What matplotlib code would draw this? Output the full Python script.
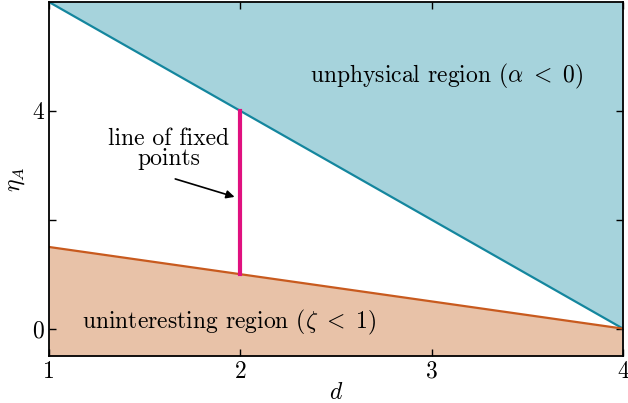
import matplotlib
matplotlib.use('Agg')
import matplotlib.pyplot as plt

plt.rcParams['font.family'] = 'serif'
plt.rcParams['font.serif'] = ['cmr10']
plt.rcParams['mathtext.fontset'] = 'cm'
plt.rcParams['axes.formatter.use_mathtext'] = True

# region boundaries eta_A(d)
d = [1, 4]
eta_unphysical = [6, 0]      # alpha = 0
eta_uninteresting = [1.5, 0]  # zeta = 1
fixed_d = [2, 2]
fixed_eta = [1, 4]

xticks = [1, 2, 3, 4]
yticks = [0, 2, 4]
ytick_labels = ['0', '', '4']

blue_line = '#14869e'
blue_fill = '#a6d3dc'
orange_line = '#c85a1e'
orange_fill = '#e8c2a8'
magenta = '#e0117f'

fs = 17

fig, ax = plt.subplots(figsize=(6.28, 4.03), dpi=100)
fig.subplots_adjust(left=0.078, right=0.992, top=0.995, bottom=0.117)

ax.fill_between(d, eta_unphysical, 6, color=blue_fill, lw=0)
ax.fill_between(d, -0.5, eta_uninteresting, color=orange_fill, lw=0)
ax.plot(d, eta_unphysical, color=blue_line, lw=1.6)
ax.plot(d, eta_uninteresting, color=orange_line, lw=1.6)
ax.plot(fixed_d, fixed_eta, color=magenta, lw=3)

ax.text(3.08, 4.64, r'unphysical region ($\alpha\ <\ 0$)', fontsize=fs,
        ha='center', va='center')
ax.text(1.94, 0.11, r'uninteresting region ($\zeta\ <\ 1$)', fontsize=fs,
        ha='center', va='center')
ax.text(1.625, 3.3, 'line of fixed\npoints', fontsize=fs, ha='center',
        va='center', linespacing=0.9)
ax.annotate('', xy=(1.97, 2.42), xytext=(1.66, 2.75),
            arrowprops=dict(arrowstyle='-|>', color='black', lw=1.2,
                            shrinkA=0, shrinkB=0, mutation_scale=12))

ax.set_xlim(1, 4)
ax.set_ylim(-0.5, 6)
ax.set_xticks(xticks)
ax.set_xticklabels([str(x) for x in xticks])
ax.set_yticks(yticks)
ax.set_yticklabels(ytick_labels)
ax.tick_params(direction='in', top=True, right=True, length=5,
               labelsize=fs, width=1)
ax.set_xlabel(r'$d$', fontsize=fs, labelpad=-1)
ax.set_ylabel(r'$\eta_A$', fontsize=fs, labelpad=4)
for s in ax.spines.values():
    s.set_linewidth(1.3)

fig.savefig('out.png', dpi=100)
